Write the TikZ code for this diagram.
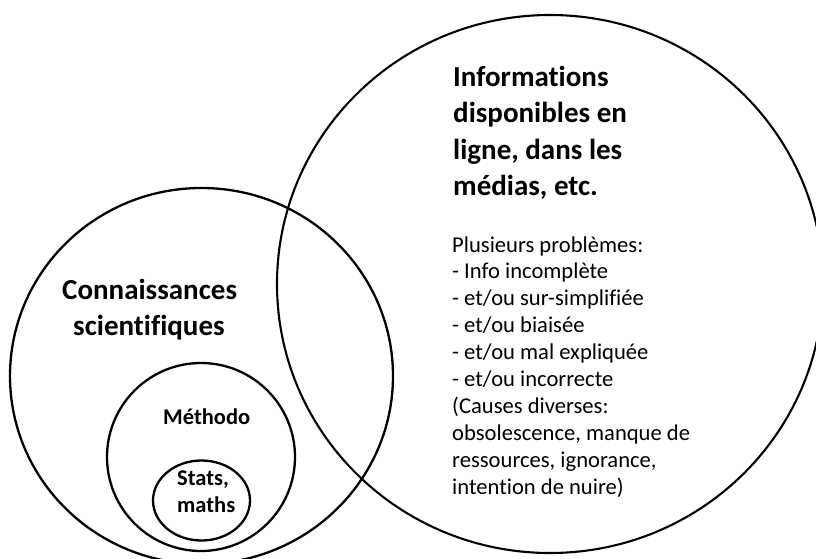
\documentclass[tikz,border=0pt]{standalone}
\usepackage{fontspec}
\setmainfont{Carlito}[Ligatures={NoCommon}]
\begin{document}
\begin{tikzpicture}[x=1pt,y=-1pt,
  ring/.style={draw=black,line width=2.3pt},
  bigtxt/.style={anchor=base west,inner sep=0pt,font=\fontsize{29}{36}\selectfont\bfseries},
  midtxt/.style={anchor=base west,inner sep=0pt,font=\fontsize{22.5}{27}\selectfont\bfseries},
  bodytxt/.style={anchor=base west,inner sep=0pt,font=\fontsize{22.6}{27}\selectfont}]
\useasboundingbox (0,0) rectangle (816,559);
\fill[white] (0,0) rectangle (816,559);
% circles
\draw[ring] (201.5,376) ellipse [x radius=191.5, y radius=188];
\draw[ring] (201,457) circle [radius=94];
\draw[ring] (201.5,500.5) ellipse [x radius=48.5, y radius=40];
\draw[ring,line width=2.1pt] (550,284) ellipse [x radius=273, y radius=269];
% left labels
\node[bigtxt] (c1) at (62,299) {Connaissances};
\node[bigtxt] (c2) at (73,335) {scientifiques};
\node[midtxt] (m1) at (163,424) {Méthodo};
\node[midtxt] (s1) at (177,485) {Stats,};
\node[midtxt] (s2) at (177,512) {maths};
% right title
\node[bigtxt] (t1) at (453,87) {Informations};
\node[bigtxt] (t2) at (453,123) {disponibles en};
\node[bigtxt] (t3) at (453,159) {ligne, dans les};
\node[bigtxt] (t4) at (453,195) {médias, etc.};
% body
\foreach \i/\t in {0/{Plusieurs problèmes:},1/{- Info incomplète},2/{- et/ou sur-simplifiée},3/{- et/ou biaisée},4/{- et/ou mal expliquée},5/{- et/ou incorrecte},6/{(Causes diverses:},7/{obsolescence, manque de},8/{ressources, ignorance,},9/{intention de nuire)}}
  \node[bodytxt] (b\i) at (452,252+26.9*\i) {\t};
\end{tikzpicture}
\end{document}
